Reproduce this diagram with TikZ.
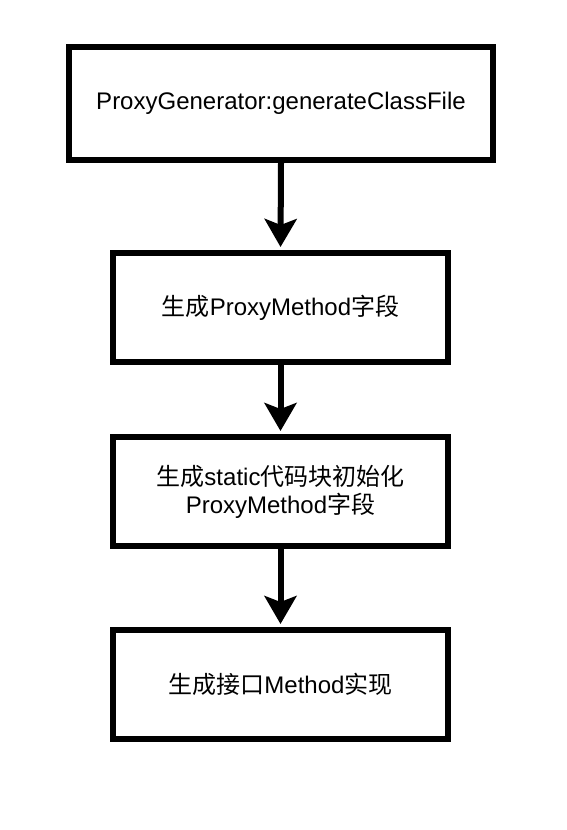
\documentclass[tikz,border=0pt]{standalone}
\usepackage{fontspec}
\setmainfont{Liberation Sans}
\newfontfamily\cjkfont{Noto Sans CJK SC}
\newcommand\zh[1]{{\cjkfont #1}}
\usetikzlibrary{arrows.meta}
\begin{document}
\begin{tikzpicture}[x=1pt,y=-1pt,
  stepbox/.style={draw=black,line width=6pt,fill=white,minimum width=335pt,minimum height=109pt,
    inner sep=0pt,align=center,font=\fontsize{24pt}{28pt}\selectfont},
  arr/.style={line width=6pt,-{Stealth[length=28pt,width=32pt,inset=6pt]},shorten >=3pt}]
\fill[white] (0,0) rectangle (566,830);
\useasboundingbox (0,0) rectangle (566,830);
\node[stepbox,minimum width=424pt,minimum height=113pt] (b1) at (281,103.5) {ProxyGenerator:generateClassFile};
\node[stepbox] (b2) at (280.5,307.5) {\zh{生成}ProxyMethod\zh{字段}};
\node[stepbox] (b3) at (280.5,491.5) {\zh{生成}static\zh{代码块初始化}\\ProxyMethod\zh{字段}};
\node[stepbox] (b4) at (280.5,684.5) {\zh{生成接口}Method\zh{实现}};
\draw[arr] (b1.south) -- (b2.north);
\draw[arr] (b2.south) -- (b3.north);
\draw[arr] (b3.south) -- (b4.north);
\end{tikzpicture}
\end{document}
